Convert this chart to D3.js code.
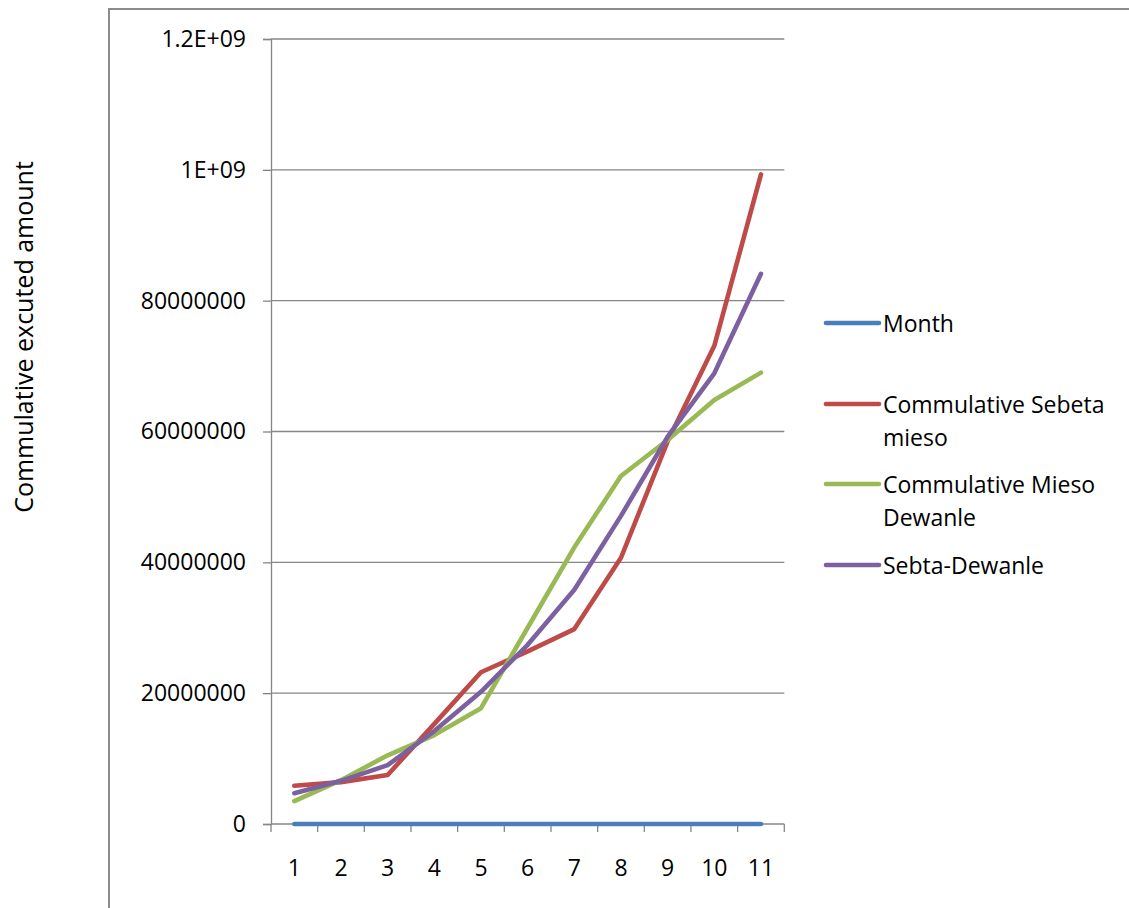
<!DOCTYPE html>
<html>
<head>
<meta charset="utf-8">
<script src="https://cdn.jsdelivr.net/npm/d3@7/dist/d3.min.js"></script>
<style>
  html, body { margin: 0; padding: 0; background: #fff; }
  svg { display: block; }
  text { font-family: "Open Sans", "Liberation Sans", sans-serif; fill: #000; }
</style>
</head>
<body>
<svg id="chart" width="1129" height="908"></svg>
<script>
// Months on the category axis
const months = [1, 2, 3, 4, 5, 6, 7, 8, 9, 10, 11];

// Series values per month
const monthSeries = [1, 2, 3, 4, 5, 6, 7, 8, 9, 10, 11];
const sebetaMieso = [5.85e7, 6.4e7, 7.5e7, 1.53e8, 2.32e8, 2.64e8, 2.98e8, 4.07e8, 5.85e8, 7.31e8, 9.93e8];
const miesoDewanle = [3.5e7, 6.7e7, 1.05e8, 1.36e8, 1.77e8, 3.0e8, 4.23e8, 5.32e8, 5.87e8, 6.48e8, 6.90e8];
const sebtaDewanle = [4.7e7, 6.6e7, 9.0e7, 1.42e8, 2.02e8, 2.74e8, 3.58e8, 4.71e8, 5.92e8, 6.89e8, 8.41e8];

// Value-axis ticks and the labels printed beside them
const yTickValues = [0, 2e8, 4e8, 6e8, 8e8, 1e9, 1.2e9];
const yTickLabels = ["0", "20000000", "40000000", "60000000", "80000000", "1E+09", "1.2E+09"];

const seriesNames = ["Month", ["Commulative Sebeta", "mieso"], ["Commulative Mieso", "Dewanle"], "Sebta-Dewanle"];
const seriesColors = ["#4a7ebb", "#be4b48", "#98b954", "#7d60a0"];

const series = [monthSeries, sebetaMieso, miesoDewanle, sebtaDewanle].map((vals, i) => ({
  name: seriesNames[i],
  color: seriesColors[i],
  values: vals.map((v, j) => ({ month: months[j], value: v }))
}));

const svg = d3.select("#chart");
const plot = { left: 271, right: 784.3, top: 39, bottom: 824 };
const gridColor = "#868686";
const labelSize = 23;

// Outer chart frame (runs past the right and bottom edges)
svg.append("rect")
  .attr("x", 109).attr("y", 9)
  .attr("width", 1200).attr("height", 1000)
  .attr("fill", "none")
  .attr("stroke", "#8c8c8c")
  .attr("stroke-width", 2);

const x = d3.scaleBand().domain(months).range([plot.left, plot.right]).paddingInner(0).paddingOuter(0);
const y = d3.scaleLinear().domain([0, 1.2e9]).range([plot.bottom, plot.top]);

// Horizontal gridlines
svg.append("g").selectAll("line")
  .data(yTickValues.slice(1))
  .join("line")
  .attr("x1", plot.left).attr("x2", plot.right)
  .attr("y1", d => y(d)).attr("y2", d => y(d))
  .attr("stroke", gridColor).attr("stroke-width", 1.3);

// Value axis
const yAxis = d3.axisLeft(y)
  .tickValues(yTickValues)
  .tickFormat((d, i) => yTickLabels[i])
  .tickSize(8)
  .tickPadding(17);
const gy = svg.append("g").attr("transform", `translate(${plot.left},0)`).call(yAxis);
gy.select(".domain").attr("stroke", gridColor).attr("stroke-width", 1.3);
gy.selectAll(".tick line").attr("stroke", gridColor).attr("stroke-width", 1.3);
gy.selectAll(".tick text")
  .attr("font-size", labelSize)
  .attr("font-family", "'Open Sans', sans-serif")
  .attr("fill", "#000");

// Category axis: tick marks at band edges, labels at band centres
const gx = svg.append("g").attr("transform", `translate(0,${plot.bottom})`);
gx.append("line")
  .attr("x1", plot.left).attr("x2", plot.right)
  .attr("stroke", gridColor).attr("stroke-width", 1.3);
const edges = months.map(m => x(m)).concat([x(months[months.length - 1]) + x.bandwidth()]);
gx.selectAll("line.tk")
  .data(edges)
  .join("line")
  .attr("class", "tk")
  .attr("x1", d => d).attr("x2", d => d)
  .attr("y1", 0).attr("y2", 8)
  .attr("stroke", gridColor).attr("stroke-width", 1.3);
gx.selectAll("text")
  .data(months)
  .join("text")
  .attr("x", d => x(d) + x.bandwidth() / 2)
  .attr("y", 43)
  .attr("text-anchor", "middle")
  .attr("dominant-baseline", "central")
  .attr("font-size", labelSize)
  .text(d => d);

// Value-axis title
svg.append("text")
  .attr("transform", "translate(23,337) rotate(-90)")
  .attr("text-anchor", "middle")
  .attr("dominant-baseline", "central")
  .attr("font-size", 25)
  .text("Commulative excuted amount");

// Series lines
const line = d3.line()
  .x(d => x(d.month) + x.bandwidth() / 2)
  .y(d => y(d.value));

svg.append("g").selectAll("path")
  .data(series)
  .join("path")
  .attr("d", d => line(d.values))
  .attr("fill", "none")
  .attr("stroke", d => d.color)
  .attr("stroke-width", 4.6)
  .attr("stroke-linejoin", "round")
  .attr("stroke-linecap", "round");

// Legend
const legendRows = [323, 404, 484, 565];
const legend = svg.append("g");
series.forEach((s, i) => {
  const g = legend.append("g").attr("transform", `translate(0,${legendRows[i]})`);
  g.append("line")
    .attr("x1", 826).attr("x2", 879)
    .attr("stroke", s.color).attr("stroke-width", 4.6)
    .attr("stroke-linecap", "round");
  const lines = Array.isArray(s.name) ? s.name : [s.name];
  lines.forEach((t, k) => {
    g.append("text")
      .attr("x", 883)
      .attr("y", k * 33)
      .attr("dominant-baseline", "central")
      .attr("font-size", labelSize)
      .text(t);
  });
});
</script>
</body>
</html>
